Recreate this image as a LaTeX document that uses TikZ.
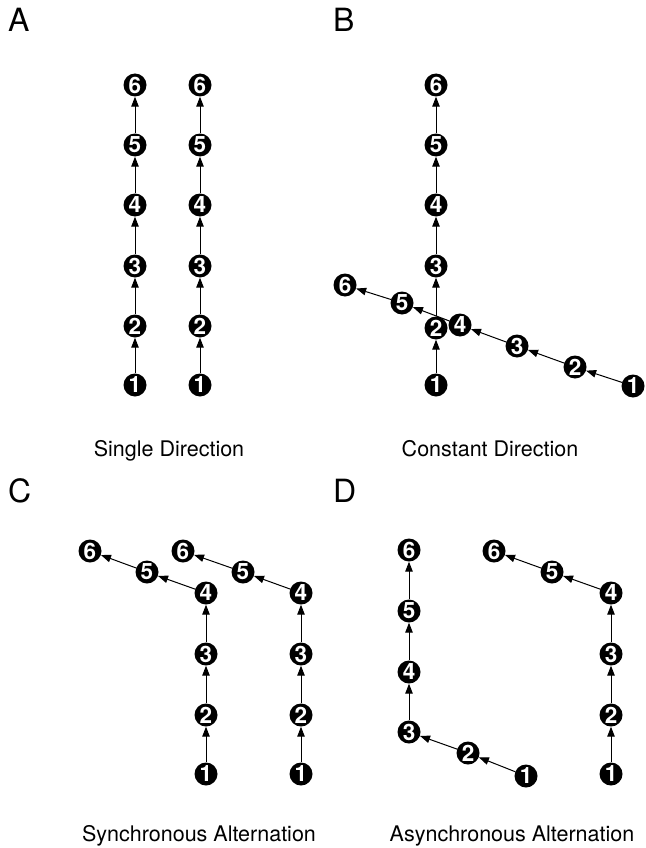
\documentclass[tikz,border=0pt]{standalone}
\usepackage{fontspec}
\setmainfont{TeX Gyre Heros}
\usetikzlibrary{arrows.meta,backgrounds}

\begin{document}
\begin{tikzpicture}[x=1pt,y=-1pt,
  dot/.style={circle,fill=black,inner sep=0pt,minimum size=23pt,text=white,
              font=\bfseries\fontsize{22.5}{22.5}\selectfont},
  link/.style={-{Triangle[length=10pt,width=7.5pt]},line width=1pt},
  panel/.style={font=\fontsize{32}{32}\selectfont,anchor=base west,inner sep=0pt},
  caption/.style={font=\fontsize{21.5}{21.5}\selectfont,anchor=base,inner sep=0pt}]
\useasboundingbox (0,0) rectangle (645,848);

% panel letters
\node[panel] (lA) at (8,32) {A};
\node[panel] (lB) at (333,32) {B};
\node[panel] (lC) at (8,502) {C};
\node[panel] (lD) at (333,502) {D};

% captions
\node[caption] (cA) at (169,456) {Single Direction};
\node[caption] (cB) at (490,456) {Constant Direction};
\node[caption] (cC) at (199,841) {Synchronous Alternation};
\node[caption] (cD) at (512,841) {Asynchronous Alternation};

% A: two straight chains
\foreach \i/\y in {1/385,2/326,3/266,4/205,5/145,6/85} {
  \node[dot] (a1-\i) at (135,\y) {\i};
  \node[dot] (a2-\i) at (200,\y) {\i};
}
% B: one vertical chain and one oblique chain
\foreach \i/\y in {1/385,2/328,3/266,4/205,5/145,6/85}
  \node[dot] (b1-\i) at (436,\y) {\i};
\foreach \i/\x/\y in {1/633/386,2/575/367,3/517/346,4/460/325,5/402/303,6/345/285}
  \node[dot] (b2-\i) at (\x,\y) {\i};
% C: both chains turn at 4
\foreach \i/\x/\y in {1/206/774,2/206/715,3/206/654,4/206/593,5/147/572,6/90/551}
  \node[dot] (c1-\i) at (\x,\y) {\i};
\foreach \i/\x/\y in {1/301/774,2/301/715,3/301/654,4/301/593,5/243/572,6/183/551}
  \node[dot] (c2-\i) at (\x,\y) {\i};
% D: chains turn at different steps
\foreach \i/\x/\y in {1/526/776,2/468/753,3/409/732,4/409/672,5/409/611,6/409/550}
  \node[dot] (d1-\i) at (\x,\y) {\i};
\foreach \i/\x/\y in {1/611/774,2/611/715,3/611/654,4/611/593,5/552/572,6/494/551}
  \node[dot] (d2-\i) at (\x,\y) {\i};

\begin{pgfonlayer}{background}
\foreach \c in {a1,a2,b1,b2,c1,c2,d1,d2}
  \foreach \i/\j in {1/2,2/3,3/4,4/5,5/6}
    \draw[link] (\c-\i) -- (\c-\j);
\end{pgfonlayer}
\end{tikzpicture}
\end{document}
